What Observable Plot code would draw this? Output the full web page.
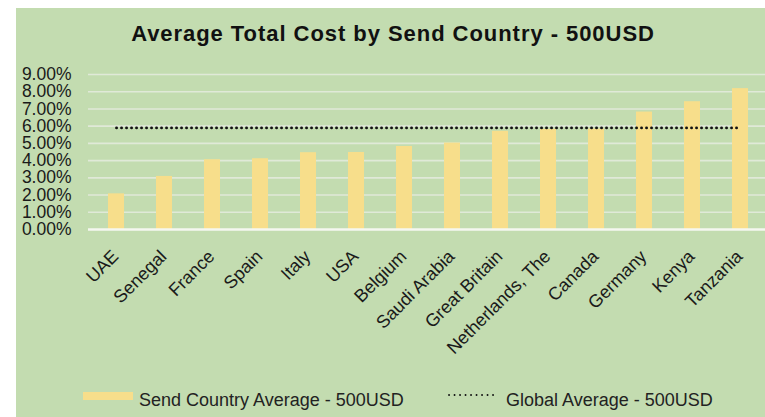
<!DOCTYPE html>
<html><head><meta charset="utf-8">
<script src="https://cdn.jsdelivr.net/npm/d3@7"></script>
<script src="https://cdn.jsdelivr.net/npm/@observablehq/plot@0.6"></script>
<style>
html,body{margin:0;padding:0;background:#fff;}
body{width:765px;height:417px;position:relative;overflow:hidden;font-family:"Liberation Sans",Arial,sans-serif;color:#1a1a1a;}
#bg{position:absolute;left:16px;top:8px;width:749px;height:409px;background:#c3dcb0;}
#title{position:absolute;left:21px;width:744px;top:23px;text-align:center;font-weight:bold;font-size:22px;line-height:22px;letter-spacing:0.95px;white-space:nowrap;color:#111;}
#chart{position:absolute;left:0;top:60px;}
.lg{position:absolute;font-size:18px;line-height:18px;white-space:nowrap;color:#222;}
#sw1{position:absolute;left:83px;top:392px;width:50px;height:8px;background:#f7de8b;}
#sw2{position:absolute;left:448px;top:393px;}
</style>
</head><body>
<div id="bg"></div>
<div id="title">Average Total Cost by Send Country - 500USD</div>
<div id="chart"></div>
<div id="sw1"></div>
<div class="lg" style="left:139px;top:391px;">Send Country Average - 500USD</div>
<svg id="sw2" width="52" height="4"><line x1="1" y1="2" x2="50" y2="2" stroke="#111" stroke-width="1.8" stroke-dasharray="0.1 5.4" stroke-linecap="round"/></svg>
<div class="lg" style="left:506px;top:391px;">Global Average - 500USD</div>
<script>
const countries = ["UAE","Senegal","France","Spain","Italy","USA","Belgium","Saudi Arabia","Great Britain","Netherlands, The","Canada","Germany","Kenya","Tanzania"];
const values = [2.07,3.08,4.05,4.11,4.46,4.47,4.82,5.02,5.70,5.81,5.83,6.82,7.42,8.18];
const globalAverage = 5.9;
const yTicks = [0,1,2,3,4,5,6,7,8,9];

const data = countries.map((c,i)=>({country:c, value:values[i]}));
const avgLine = [
  {country: countries[0], v: globalAverage},
  {country: countries[countries.length-1], v: globalAverage}
];

const chart = Plot.plot({
  width:765, height:310,
  marginTop:14, marginBottom:141, marginLeft:88, marginRight:0,
  style:{background:"transparent", fontFamily:"'Liberation Sans', Arial, sans-serif", color:"#1a1a1a", overflow:"visible"},
  x:{domain:countries, range:[88,767.6], paddingInner:0.67, paddingOuter:0.33, axis:null},
  y:{domain:[0,9], axis:null},
  marks:[
    Plot.ruleY(yTicks.slice(1), {stroke:"#e0e9d8", strokeWidth:1.6}),
    Plot.barY(data, {x:"country", y:"value", fill:"#f7de8b"}),
    Plot.ruleY([0], {stroke:"#f5f7f0", strokeWidth:2.5}),
    Plot.line(avgLine, {x:"country", y:"v", stroke:"#111", strokeWidth:2.8, strokeDasharray:"0.1 4.9", strokeLinecap:"round"}),
    Plot.text(yTicks, {y:d=>d, text:d=>d.toFixed(2)+"%", frameAnchor:"left", dx:-17, textAnchor:"end", fontSize:17.5, fill:"#1a1a1a"}),
    Plot.text(countries, {x:d=>d, text:d=>d, frameAnchor:"bottom", dy:24, dx:-1, rotate:-45, textAnchor:"end", lineAnchor:"middle", fontSize:18, fill:"#1a1a1a"})
  ]
});
document.getElementById("chart").appendChild(chart);
</script>
</body></html>
